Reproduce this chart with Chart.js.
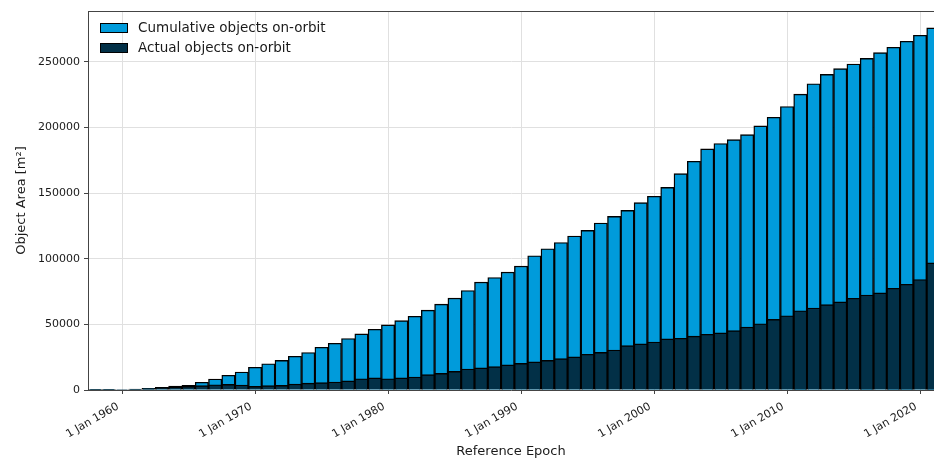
<!DOCTYPE html>
<html>
<head>
<meta charset="utf-8">
<script src="https://cdn.jsdelivr.net/npm/chart.js@4"></script>
<style>
  html, body { margin:0; padding:0; background:#fff; }
</style>
</head>
<body>
<canvas id="chart" width="934" height="459"></canvas>
<script>
// data (one bar per year, centred on 1 Jan)
const years = [1958,1959,1960,1961,1962,1963,1964,1965,1966,1967,1968,1969,
  1970,1971,1972,1973,1974,1975,1976,1977,1978,1979,
  1980,1981,1982,1983,1984,1985,1986,1987,1988,1989,
  1990,1991,1992,1993,1994,1995,1996,1997,1998,1999,
  2000,2001,2002,2003,2004,2005,2006,2007,2008,2009,
  2010,2011,2012,2013,2014,2015,2016,2017,2018,2019,
  2020,2021];
const cumulativeArea = [100,200,350,700,1300,2000,3000,3600,5900,8400,11200,13700,
  17300,20000,22600,25700,28600,32600,35600,39200,42700,46300,
  49600,52900,56200,60800,65400,70000,75800,82200,85700,89800,
  94400,102300,107600,112400,117300,121600,127200,132300,136900,142700,
  147600,154400,164800,174300,183700,187800,190700,194600,201200,207800,
  216000,225400,233300,240500,244800,248400,252700,257000,261100,265700,
  270300,275900];
const actualArea = [100,200,350,500,1000,1500,2300,2800,3300,4000,4300,3800,
  2800,3300,3500,4500,5200,5600,6100,6900,8600,9200,
  8600,9200,9900,11700,12700,14200,16000,16800,17800,19100,
  20300,21400,22600,23900,25200,27200,28700,30500,33800,35100,
  36600,38900,39400,41000,42500,43500,45200,47900,50500,53800,
  56600,60400,62500,65000,67100,69900,72400,74000,77500,80600,
  84200,96900];
const tickYears = [1960,1970,1980,1990,2000,2010,2020];
const yTicks = [0,50000,100000,150000,200000,250000];

const FONT = 'DejaVu Sans';
const lightBlue = '#009bdb';
const darkBlue = '#023047';

// legend drawn inside the plot, top-left, plus the top spine
const innerLegend = {
  id:'innerLegend',
  afterDraw(chart){
    const ctx = chart.ctx;
    const a = chart.chartArea;
    ctx.save();
    ctx.strokeStyle = '#444';
    ctx.lineWidth = 1;
    ctx.beginPath();
    ctx.moveTo(a.left, a.top + 0.5);
    ctx.lineTo(a.right, a.top + 0.5);
    ctx.stroke();
    ctx.font = `13.5px "${FONT}"`;
    ctx.textBaseline = 'middle';
    chart.data.datasets.forEach((ds, i)=>{
      const y = a.top + 12 + i*20;
      ctx.fillStyle = ds.backgroundColor;
      ctx.fillRect(a.left + 12, y, 28, 10);
      ctx.strokeStyle = '#000';
      ctx.strokeRect(a.left + 12.5, y + 0.5, 27, 9);
      ctx.fillStyle = '#1a1a1a';
      ctx.fillText(ds.label, a.left + 50, y + 5);
    });
    ctx.restore();
  }
};

const chart = new Chart(document.getElementById('chart').getContext('2d'), {
  type:'bar',
  data:{
    datasets:[
      {label:'Cumulative objects on-orbit', data: years.map((x,i)=>({x, y:cumulativeArea[i]})),
       backgroundColor: lightBlue, borderColor:'#000', borderWidth:1.4, order:2, grouped:false},
      {label:'Actual objects on-orbit', data: years.map((x,i)=>({x, y:actualArea[i]})),
       backgroundColor: darkBlue, borderColor:'#000', borderWidth:1.4, order:1, grouped:false}
    ]
  },
  options:{
    responsive:false,
    animation:false,
    devicePixelRatio:1,
    layout:{padding:{top:11, right:0, left:0, bottom:0}},
    datasets:{bar:{categoryPercentage:1, barPercentage:1}},
    plugins:{legend:{display:false}, tooltip:{enabled:false}},
    scales:{
      x:{
        type:'linear',
        offset:false,
        min:1957.44, max:2021.05,
        afterBuildTicks: axis => { axis.ticks = tickYears.map(v=>({value:v})); },
        afterFit: axis => { axis.height = 69; },
        grid:{color:'#e0e0e0', lineWidth:1, tickColor:'#444', tickLength:4, offset:false},
        border:{color:'#444', width:1},
        ticks:{
          font:{family:FONT, size:11}, color:'#1a1a1a',
          minRotation:30, maxRotation:30, padding:6, labelOffset:-4, autoSkip:false,
          callback: v => '1 Jan ' + v
        },
        title:{display:true, text:'Reference Epoch', font:{family:FONT, size:13}, color:'#1a1a1a', padding:{top:0, bottom:0}}
      },
      y:{
        min:0, max:288750,
        afterBuildTicks: axis => { axis.ticks = yTicks.map(v=>({value:v})); },
        afterFit: axis => { axis.width = 88; },
        grid:{color:'#e0e0e0', lineWidth:1, tickColor:'#444', tickLength:4},
        border:{color:'#444', width:1},
        ticks:{font:{family:FONT, size:11}, color:'#1a1a1a', padding:4, callback: v => String(v)},
        title:{display:true, text:'Object Area [m²]', font:{family:FONT, size:13}, color:'#1a1a1a', padding:{top:14, bottom:4}}
      }
    }
  },
  plugins:[innerLegend]
});
</script>
</body>
</html>
